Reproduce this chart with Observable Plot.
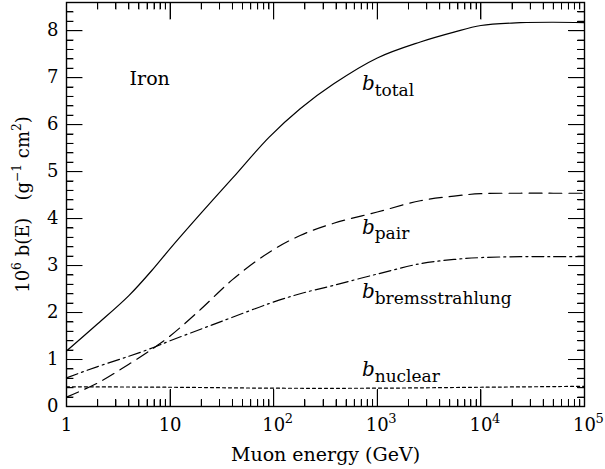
<!DOCTYPE html>
<html>
<head>
<meta charset="utf-8">
<script src="https://cdn.jsdelivr.net/npm/d3@7"></script>
<script src="https://cdn.jsdelivr.net/npm/@observablehq/plot@0.6"></script>
<style>
  body { margin: 0; background: #fff; }
</style>
</head>
<body>
<div id="chart"></div>
<script>
// Muon energy-loss coefficients b(E) in iron, in units of 1e-6 g^-1 cm^2
const energy = [1, 2, 4, 7, 10, 20, 40, 90, 180, 380, 1000, 2600, 5500, 1e4, 2.4e4, 5e4, 1e5];
const bTotal = [1.18, 1.76, 2.36, 2.95, 3.36, 4.12, 4.86, 5.73, 6.34, 6.87, 7.42, 7.76, 7.97, 8.11, 8.17, 8.18, 8.17];
const bPair  = [0.20, 0.50, 0.90, 1.25, 1.50, 2.08, 2.70, 3.28, 3.64, 3.90, 4.14, 4.38, 4.48, 4.53, 4.54, 4.54, 4.54];
const bBrems = [0.61, 0.85, 1.07, 1.26, 1.40, 1.65, 1.90, 2.19, 2.40, 2.58, 2.82, 3.04, 3.13, 3.17, 3.19, 3.19, 3.19];
const nuclearEnergy = [1, 10, 100, 1000, 1e4, 1e5];
const bNuclear = [0.42, 0.41, 0.39, 0.39, 0.41, 0.43];

// Axis ticks
const xMajor = [1, 10, 100, 1000, 1e4, 1e5];
const xBase = ["1", "10", "10", "10", "10", "10"];
const xExp = ["", "", "2", "3", "4", "5"];
const yMajor = [0, 1, 2, 3, 4, 5, 6, 7, 8];

// Curve annotations (anchor in data coordinates; *italic*, _{sub})
const curveLabels = [
  {text: "*b*_{total}", x: 710, y: 6.73},
  {text: "*b*_{pair}", x: 710, y: 3.68},
  {text: "*b*_{bremsstrahlung}", x: 710, y: 2.30},
  {text: "*b*_{nuclear}", x: 710, y: 0.645}
];

const series = [
  ...energy.map((e, i) => ({E: e, b: bTotal[i], key: "total"})),
  ...energy.map((e, i) => ({E: e, b: bPair[i], key: "pair"})),
  ...energy.map((e, i) => ({E: e, b: bBrems[i], key: "brems"})),
  ...nuclearEnergy.map((e, i) => ({E: e, b: bNuclear[i], key: "nuclear"}))
];
const dashes = {total: null, pair: "13,7", brems: "12,4,2,4", nuclear: "3,3"};

const W = 605, H = 469;
const mL = 66, mR = 21, mT = 2, mB = 63;
const xDomain = [1, 1e5], yDomain = [0, 8.6];
const innerW = W - mL - mR, innerH = H - mT - mB;

// inward tick lengths (pixels) expressed in scale units
const decadesPerPx = Math.log10(xDomain[1] / xDomain[0]) / innerW;
const unitsPerPx = (yDomain[1] - yDomain[0]) / innerH;
const xFactor = len => Math.pow(10, len * decadesPerPx);
const yLen = len => len * unitsPerPx;

const xMinor = [];
for (let d = 1; d < 1e5; d *= 10) for (let k = 2; k <= 9; k++) xMinor.push(d * k);
const yMinor = d3.range(0, 8.6, 0.2).map(v => +v.toFixed(1)).filter(v => !yMajor.includes(v));
const xInner = xMajor.slice(1, -1);
const yInner = yMajor.slice(1);

const xTickLabels = xMajor.map((v, i) => ({v, base: xBase[i], exp: xExp[i]}));

// tick segments (bottom/top for x, left/right for y)
const tickStyle = {stroke: "black", strokeWidth: 1};
const ticksX = (vals, len) => [
  Plot.link(vals, {x1: d => d, x2: d => d, y1: () => yDomain[0], y2: () => yDomain[0] + yLen(len), ...tickStyle}),
  Plot.link(vals, {x1: d => d, x2: d => d, y1: () => yDomain[1] - yLen(len), y2: () => yDomain[1], ...tickStyle})
];
const ticksY = (vals, len) => [
  Plot.link(vals, {y1: d => d, y2: d => d, x1: () => xDomain[0], x2: () => xDomain[0] * xFactor(len), ...tickStyle}),
  Plot.link(vals, {y1: d => d, y2: d => d, x1: () => xDomain[1] / xFactor(len), x2: () => xDomain[1], ...tickStyle})
];

const lineMarks = Object.keys(dashes).map(k =>
  Plot.line(series.filter(d => d.key === k), {
    x: "E", y: "b", stroke: "black", strokeWidth: 1.2,
    strokeDasharray: dashes[k], curve: "catmull-rom"
  })
);

const textStyle = {fill: "black"};

const chart = Plot.plot({
  width: W, height: H,
  marginLeft: mL, marginRight: mR, marginTop: mT, marginBottom: mB,
  x: {type: "log", domain: xDomain, axis: null},
  y: {domain: yDomain, axis: null},
  style: {fontFamily: "'DejaVu Serif', serif", background: "white", color: "black"},
  marks: [
    ...lineMarks,
    // tick labels
    Plot.text(xTickLabels, {x: "v", text: "base", frameAnchor: "bottom", lineAnchor: "bottom",
      dy: 24, fontSize: 18, ...textStyle}),
    Plot.text(xTickLabels.filter(d => d.exp), {x: "v", text: "exp", frameAnchor: "bottom",
      lineAnchor: "bottom", textAnchor: "start", dx: 11, dy: 16, fontSize: 13, ...textStyle}),
    Plot.text(yMajor, {y: d => d, text: d => String(d), frameAnchor: "left", textAnchor: "end",
      lineAnchor: "middle", dx: -8, fontSize: 18, ...textStyle}),
    // axis titles
    Plot.text(["Muon energy (GeV)"], {frameAnchor: "bottom", lineAnchor: "bottom", dy: 54,
      fontSize: 19, ...textStyle}),
    Plot.text(["10^{6} b(E)   (g^{\u22121} cm^{2})"], {frameAnchor: "left", rotate: -90,
      lineAnchor: "middle", textAnchor: "middle", dx: -43, fontSize: 18, ...textStyle}),
    // annotations
    Plot.text(["Iron"], {x: [4.06], y: [6.85], textAnchor: "start", lineAnchor: "bottom",
      fontSize: 19, ...textStyle}),
    Plot.text(curveLabels, {x: "x", y: "y", text: "text", textAnchor: "start", lineAnchor: "bottom",
      fontSize: 20, ...textStyle}),
    // inward ticks on all four sides, then the frame
    ...ticksX(xInner, 17),
    ...ticksX(xMinor, 7),
    ...ticksY(yInner, 16),
    ...ticksY(yMinor, 7),
    Plot.frame({stroke: "black", strokeWidth: 1.4})
  ]
});

document.getElementById("chart").appendChild(chart);

// Turn ^{..}, _{..} and *..* markup into superscript, subscript and italic tspans
const SVGNS = "http://www.w3.org/2000/svg";
function richText(el) {
  const src = el.textContent;
  if (!/[\^_]\{|\*/.test(src)) return;
  const fs = parseFloat(getComputedStyle(el).fontSize);
  el.textContent = "";
  el.style.whiteSpace = "pre";
  let shift = 0;
  for (const tok of src.split(/(\^\{[^}]*\}|_\{[^}]*\}|\*[^*]*\*)/)) {
    if (!tok) continue;
    const t = document.createElementNS(SVGNS, "tspan");
    let target = 0, text = tok;
    if (tok.startsWith("^{")) {
      target = -0.45 * fs; text = tok.slice(2, -1); t.setAttribute("font-size", 0.68 * fs);
    } else if (tok.startsWith("_{")) {
      target = 0.27 * fs; text = tok.slice(2, -1); t.setAttribute("font-size", 0.85 * fs);
    } else if (tok.startsWith("*")) {
      text = tok.slice(1, -1); t.setAttribute("font-style", "italic");
    }
    if (target !== shift) { t.setAttribute("dy", target - shift); shift = target; }
    t.textContent = text;
    el.appendChild(t);
  }
}
chart.querySelectorAll("text").forEach(richText);

// Frame ticks placed with the chart's own scales, layered on top
try {
  const sx = chart.scale("x"), sy = chart.scale("y");
  const X = v => sx.apply(v), Y = v => sy.apply(v);
  const left = X(xDomain[0]), right = X(xDomain[1]);
  const bottom = Y(yDomain[0]), top = Y(yDomain[1]);
  const g = d3.select(chart).append("g").attr("stroke", "black").attr("stroke-width", 1);
  const seg = (x1, y1, x2, y2) =>
    g.append("line").attr("x1", x1).attr("y1", y1).attr("x2", x2).attr("y2", y2);
  for (const [vals, len] of [[xInner, 17], [xMinor, 7]]) {
    for (const v of vals) {
      const px = Math.round(X(v)) + 0.5;
      seg(px, bottom, px, bottom - len);
      seg(px, top, px, top + len);
    }
  }
  for (const [vals, len] of [[yInner, 16], [yMinor, 7]]) {
    for (const v of vals) {
      const py = Math.round(Y(v)) + 0.5;
      seg(left, py, left + len, py);
      seg(right, py, right - len, py);
    }
  }
} catch (e) { /* scales unavailable: Plot tick marks above still apply */ }
</script>
</body>
</html>
